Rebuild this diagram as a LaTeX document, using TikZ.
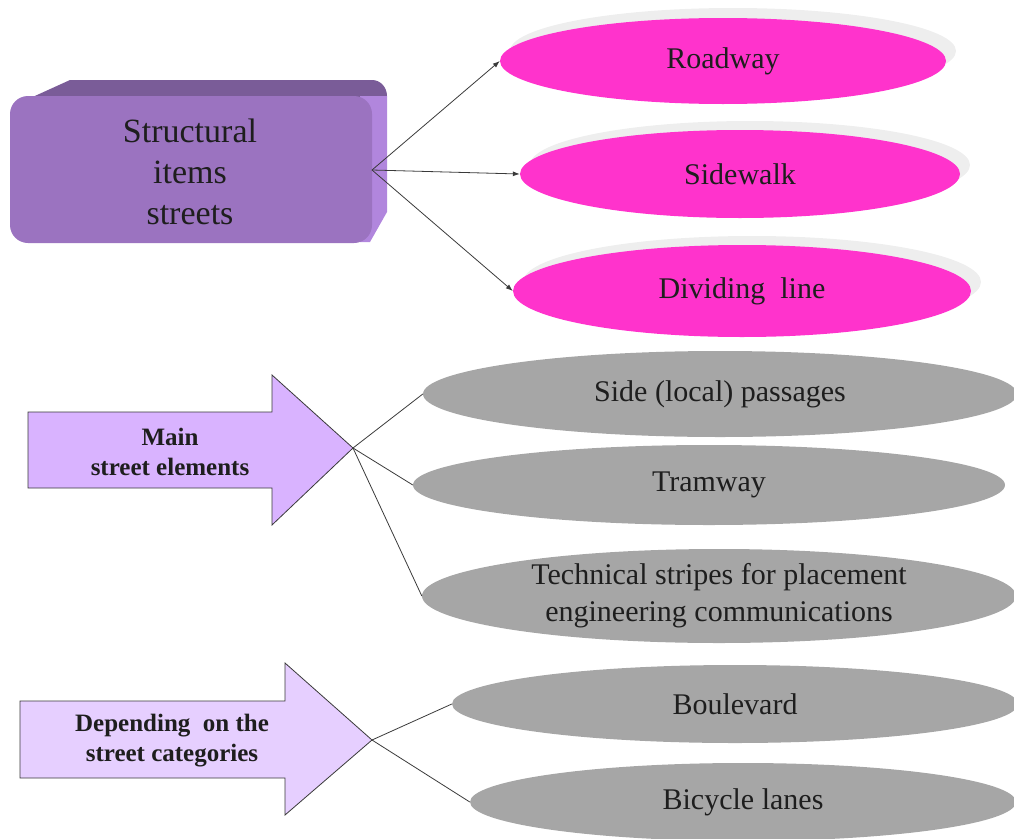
\documentclass[tikz,border=0pt]{standalone}
\usepackage{fontspec}
\setmainfont{Liberation Serif}
\usetikzlibrary{shapes.geometric,arrows.meta}

\definecolor{boxfront}{HTML}{9B73C0}
\definecolor{boxtop}{HTML}{7A5C98}
\definecolor{boxside}{HTML}{B186DD}
\definecolor{pinkfill}{HTML}{FF33CC}
\definecolor{shadowgray}{HTML}{EEEEEE}
\definecolor{grayfill}{HTML}{A6A6A6}
\definecolor{arrowfillA}{HTML}{D9B3FF}
\definecolor{arrowfillB}{HTML}{E6CFFF}
\definecolor{linegray}{HTML}{3A3A3A}
\definecolor{textdark}{HTML}{1E1E1E}

\tikzset{
  pinkoval/.style={ellipse, fill=pinkfill, inner sep=0pt, text=textdark,
    font=\fontsize{30}{34}\selectfont},
  ovalshadow/.style={ellipse, fill=shadowgray, inner sep=0pt},
  grayoval/.style={ellipse, fill=grayfill, inner sep=0pt, text=textdark,
    align=center, font=\fontsize{30}{37}\selectfont},
  bigarrow/.style={draw=linegray, line width=0.8pt, line join=miter},
  arrowlabel/.style={align=center, text=textdark,
    font=\bfseries\fontsize{25}{30}\selectfont},
  feed/.style={draw=linegray, line width=0.8pt},
  pointer/.style={feed, -{Latex[length=7pt,width=5pt]}},
}

\begin{document}
\begin{tikzpicture}[x=1pt,y=-1pt]
\useasboundingbox (0,0) rectangle (1014,838);
\clip (0,0) rectangle (1014,838);

% --- raised block on the left (top face, side face, front face)
\fill[boxtop] (26,100) -- (70,80) -- (372,80)
  to[out=0,in=90] (387,96) -- (372,104) -- cycle;
\fill[boxside] (360,96) -- (387,96) -- (387,212) -- (370,242) -- (360,242) -- cycle;
\fill[boxfront, rounded corners=18pt] (10,96) rectangle (372,243);
\node[text=textdark, align=center, font=\fontsize{34}{41}\selectfont]
  (structural) at (190,172) {Structural\\items\\streets};
\coordinate (hub) at (372,170);

% --- pink category ovals with their pale shadows
\node[ovalshadow, minimum width=446pt, minimum height=86pt] at (733,51) {};
\node[pinkoval, minimum width=446pt, minimum height=86pt] (roadway) at (723,61) {Roadway};
\node[ovalshadow, minimum width=440pt, minimum height=88pt] at (750,165) {};
\node[pinkoval, minimum width=440pt, minimum height=88pt] (sidewalk) at (740,174) {Sidewalk};
\node[ovalshadow, minimum width=458pt, minimum height=92pt] at (752,282) {};
\node[pinkoval, minimum width=458pt, minimum height=92pt] (dividing) at (742,291) {Dividing\ \ line};

\draw[pointer] (hub) -- (roadway.west);
\draw[pointer] (hub) -- (sidewalk.west);
\draw[pointer] (hub) -- (dividing.west);

% --- first block arrow and its gray ovals
\draw[bigarrow, fill=arrowfillA]
  (28,412) -- (272,412) -- (272,375) -- (353,448) -- (272,525) -- (272,488) -- (28,488) -- cycle;
\coordinate (tipA) at (353,448);
\node[arrowlabel] (mainlbl) at (170,452) {Main\\street elements};

\node[grayoval, minimum width=594pt, minimum height=86pt] (side) at (720,394) {Side (local) passages};
\node[grayoval, minimum width=592pt, minimum height=80pt] (tram) at (709,485) {Tramway};
\node[grayoval, minimum width=594pt, minimum height=94pt] (tech) at (719,596)
  {Technical stripes for placement\\engineering communications};

\draw[feed] (tipA) -- (side.west);
\draw[feed] (tipA) -- (tram.west);
\draw[feed] (tipA) -- (tech.west);

% --- second block arrow and its gray ovals
\draw[bigarrow, fill=arrowfillB]
  (20,701) -- (285,701) -- (285,663) -- (372,740) -- (285,815) -- (285,778) -- (20,778) -- cycle;
\coordinate (tipB) at (372,740);
\node[arrowlabel] (catlbl) at (172,741) {Depending\ \ on the\\street categories};

\node[grayoval, minimum width=566pt, minimum height=78pt] (boulevard) at (735,704) {Boulevard};
\node[grayoval, minimum width=546pt, minimum height=78pt] (bicycle) at (743,802) {Bicycle lanes};

\draw[feed] (tipB) -- (boulevard.west);
\draw[feed] (tipB) -- (bicycle.west);
\end{tikzpicture}
\end{document}
